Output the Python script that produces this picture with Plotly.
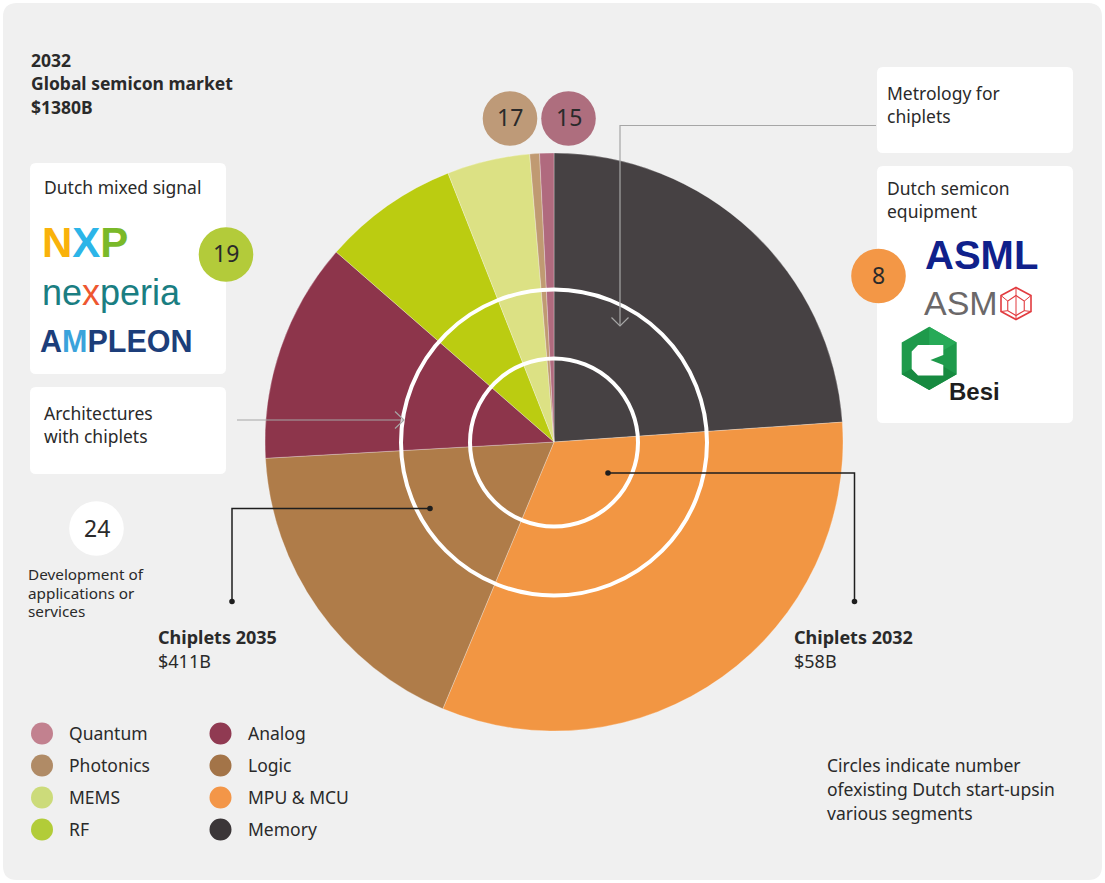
import plotly.graph_objects as go

W, H = 1105, 883

# 2032 global semiconductor market by segment ($B)
segments = ["Memory", "MPU & MCU", "Logic", "Analog", "RF", "MEMS", "Photonics", "Quantum"]
market_2032 = [330, 447, 246, 170, 105, 64, 7.5, 11]
slice_colors = ["#464143", "#F29643", "#AF7C49", "#8D354B", "#BBCC11", "#DCE184", "#C09A72", "#B06A7E"]

# legend (two columns)
legend_left = ["Quantum", "Photonics", "MEMS", "RF"]
legend_left_colors = ["#C2818F", "#B08B66", "#CCDB7A", "#B2CC38"]
legend_right = ["Analog", "Logic", "MPU & MCU", "Memory"]
legend_right_colors = ["#903A52", "#A37448", "#F39648", "#3B3638"]

# number of existing Dutch start-ups per segment
startup_labels = ["19", "17", "15", "8", "24"]
startup_colors = ["#B3CB3A", "#BE9A78", "#AE6E7E", "#F39746", "#FFFFFF"]
startup_centers = [(226, 254.5), (510, 118.5), (568.5, 118.5), (878.5, 276), (96.5, 528.5)]

chiplet_labels = ["Chiplets 2035", "Chiplets 2032"]
chiplet_values = ["$411B", "$58B"]

FONT = "Noto Sans"
TXT = "#2a2a2a"


def px(x):
    return x / W


def py(y):
    return 1 - y / H


def rrect_path(x0, y0, x1, y1, r):
    p = [
        f"M{px(x0 + r)},{py(y0)}",
        f"L{px(x1 - r)},{py(y0)}",
        f"Q{px(x1)},{py(y0)} {px(x1)},{py(y0 + r)}",
        f"L{px(x1)},{py(y1 - r)}",
        f"Q{px(x1)},{py(y1)} {px(x1 - r)},{py(y1)}",
        f"L{px(x0 + r)},{py(y1)}",
        f"Q{px(x0)},{py(y1)} {px(x0)},{py(y1 - r)}",
        f"L{px(x0)},{py(y0 + r)}",
        f"Q{px(x0)},{py(y0)} {px(x0 + r)},{py(y0)}",
        "Z",
    ]
    return " ".join(p)


def poly_path(pts, close=True):
    s = "M" + " L".join(f"{px(x)},{py(y)}" for x, y in pts)
    return s + (" Z" if close else "")


shapes = []
annotations = []


def add_rrect(x0, y0, x1, y1, r, fill, layer="below"):
    shapes.append(dict(type="path", xref="paper", yref="paper", path=rrect_path(x0, y0, x1, y1, r),
                       fillcolor=fill, line=dict(width=0), layer=layer))


def add_circle(cx, cy, r, fill=None, line_color=None, line_width=0, layer="above"):
    shapes.append(dict(type="circle", xref="paper", yref="paper",
                       x0=px(cx - r), x1=px(cx + r), y0=py(cy + r), y1=py(cy - r),
                       fillcolor=fill if fill else "rgba(0,0,0,0)",
                       line=dict(color=line_color if line_color else "rgba(0,0,0,0)", width=line_width),
                       layer=layer))


def add_line(pts, color, width, layer="above"):
    shapes.append(dict(type="path", xref="paper", yref="paper", path=poly_path(pts, close=False),
                       line=dict(color=color, width=width), layer=layer))


def add_text(x, y, text, size=17.5, color=TXT, bold=False, xanchor="left", family=FONT):
    # annotation boxes carry a small inner padding; compensate so text starts at x
    if xanchor == "left":
        x -= 2
    y -= 1
    annotations.append(dict(x=px(x), y=py(y), xref="paper", yref="paper", text=text, showarrow=False,
                            xanchor=xanchor, yanchor="middle",
                            font=dict(family=family, size=size, color=color,
                                      weight="bold" if bold else "normal")))


# panel background and white cards
add_rrect(3, 3, 1102, 880, 14, "#F0F0F0")
add_rrect(30, 163, 226, 374, 6, "#FFFFFF")
add_rrect(30, 387, 226, 474, 6, "#FFFFFF")
add_rrect(877, 67, 1073, 153, 6, "#FFFFFF")
add_rrect(877, 166, 1073, 423, 6, "#FFFFFF")

# chiplet market rings
add_circle(554, 442.5, 153, line_color="#FFFFFF", line_width=4)
add_circle(554, 442.5, 84, line_color="#FFFFFF", line_width=4)

# callout arrows (grey)
grey = "#A6A6A6"
add_line([(876, 125.5), (620, 125.5), (620, 326)], grey, 1.2)
add_line([(611.5, 317.5), (620, 326), (628.5, 317.5)], grey, 1.2)
add_line([(237, 420), (404, 420)], grey, 1.2)
add_line([(395, 411.5), (404, 420), (395, 428.5)], grey, 1.2)

# chiplet leader lines
dark = "#1E1E1E"
add_line([(430, 508.5), (232, 508.5), (232, 601.5)], dark, 1.5)
add_line([(608, 473), (854.5, 473), (854.5, 601.5)], dark, 1.5)
for cx, cy in [(430, 508.5), (232, 601.5), (608, 473), (854.5, 601.5)]:
    add_circle(cx, cy, 2.8, fill=dark)

# start-up count bubbles
for lab, col, (cx, cy) in zip(startup_labels, startup_colors, startup_centers):
    add_circle(cx, cy, 27.3, fill=col)
    add_text(cx, cy, lab, size=23, color=TXT, xanchor="center")

# headline
add_text(31, 61, "2032", bold=True)
add_text(31, 84.5, "Global semicon market", bold=True)
add_text(31, 108, "$1380B", bold=True)

# cards text
add_text(44, 188.5, "Dutch mixed signal")
add_text(44, 413.5, "Architectures")
add_text(44, 437, "with chiplets")
add_text(887, 93.5, "Metrology for")
add_text(887, 117, "chiplets")
add_text(887, 189, "Dutch semicon")
add_text(887, 212, "equipment")

add_text(28, 575, "Development of", size=15.3)
add_text(28, 593.5, "applications or", size=15.3)
add_text(28, 612, "services", size=15.3)

# chiplet labels
add_text(158, 638, chiplet_labels[0], bold=True, size=18)
add_text(158, 661.5, chiplet_values[0], size=18)
add_text(794, 638, chiplet_labels[1], bold=True, size=18)
add_text(794, 661.5, chiplet_values[1], size=18)

# footnote
add_text(827, 766, "Circles indicate number", size=17.5)
add_text(827, 790, "ofexisting Dutch start-upsin", size=17.5)
add_text(827, 814, "various segments", size=17.5)

# legend
rows = [733.5, 765.5, 797.5, 829.5]
for name, col, y in zip(legend_left, legend_left_colors, rows):
    add_circle(42, y, 11, fill=col)
    add_text(69, y, name)
for name, col, y in zip(legend_right, legend_right_colors, rows):
    add_circle(220.5, y, 11, fill=col)
    add_text(247.5, y, name)

# company logos (typographic)
add_text(42, 243, '<span style="color:#F9B20B">N</span><span style="color:#2CB5E8">X</span>'
         '<span style="color:#7AB929">P</span>', size=42, bold=True, family="Liberation Sans")
add_text(42, 293, '<span style="color:#1A7E82">ne</span><span style="color:#EE5730">x</span>'
         '<span style="color:#1A7E82">peria</span>', size=36, family="Liberation Sans")
add_text(40, 342, '<span style="color:#1C3E7A">A</span><span style="color:#3AA3DB">M</span>'
         '<span style="color:#1C3E7A">PLEON</span>', size=30.5, bold=True, family="Liberation Sans")

add_text(925, 256, "ASML", size=40, bold=True, color="#10218B", family="Liberation Sans")
add_text(924, 304, "ASM", size=34, color="#6B6869", family="Liberation Sans")
add_text(949, 393, "Besi", size=24, bold=True, color="#1E1E1E", family="Liberation Sans")

# ASM cube mark
cx, cy, rx, ry = 1016, 303.5, 15, 16
hexv = [(cx, cy - ry), (cx + rx, cy - ry / 2), (cx + rx, cy + ry / 2), (cx, cy + ry),
        (cx - rx, cy + ry / 2), (cx - rx, cy - ry / 2)]
red = "#E23B3F"
shapes.append(dict(type="path", xref="paper", yref="paper", path=poly_path(hexv),
                   line=dict(color=red, width=1.6), layer="above"))
inner = [(cx, cy - ry * 0.5), (cx + rx * 0.55, cy - ry * 0.15), (cx + rx * 0.55, cy + ry * 0.45),
         (cx, cy + ry * 0.75), (cx - rx * 0.55, cy + ry * 0.45), (cx - rx * 0.55, cy - ry * 0.15)]
shapes.append(dict(type="path", xref="paper", yref="paper", path=poly_path(inner),
                   line=dict(color=red, width=1.1), layer="above"))
for (ax, ay), (bx, by) in zip(hexv, inner):
    add_line([(ax, ay), (bx, by)], red, 1.0)
add_line([(cx, cy - ry * 0.5), (cx, cy + ry * 0.75)], red, 1.0)

# Besi hexagon mark
bx, by, brx, bry = 929.2, 358.4, 27.5, 31.7
besi_hex = [(bx, by - bry), (bx + brx, by - bry / 2), (bx + brx, by + bry / 2), (bx, by + bry),
            (bx - brx, by + bry / 2), (bx - brx, by - bry / 2)]
shapes.append(dict(type="path", xref="paper", yref="paper", path=poly_path(besi_hex),
                   fillcolor="#1E9A4B", line=dict(width=0), layer="above"))
# facet shading
shapes.append(dict(type="path", xref="paper", yref="paper",
                   path=poly_path([(bx, by), (bx + brx, by + bry / 2), (bx, by + bry), (bx - brx, by + bry / 2)]),
                   fillcolor="#178A40", line=dict(width=0), layer="above"))
shapes.append(dict(type="path", xref="paper", yref="paper",
                   path=poly_path([(bx, by), (bx, by - bry), (bx + brx, by - bry / 2)]),
                   fillcolor="#27AA57", line=dict(width=0), layer="above"))
besi_c = [(918, 345), (943.3, 345), (943.3, 355), (930.5, 360), (943.3, 365), (943.3, 375.5),
          (918, 375.5), (911.7, 369), (911.7, 351.5)]
shapes.append(dict(type="path", xref="paper", yref="paper", path=poly_path(besi_c),
                   fillcolor="#FFFFFF", line=dict(width=0), layer="above"))

# main pie
cxp, cyp, rp = 554, 442, 289
fig = go.Figure(go.Pie(
    labels=segments, values=market_2032, sort=False, direction="clockwise", rotation=0,
    marker=dict(colors=slice_colors, line=dict(color="rgba(255,255,255,0.35)", width=0.8)),
    textinfo="none", hoverinfo="label+value", showlegend=False,
    domain=dict(x=[px(cxp - rp), px(cxp + rp)], y=[py(cyp + rp), py(cyp - rp)]),
))

fig.update_layout(
    width=W, height=H, margin=dict(l=0, r=0, t=0, b=0),
    paper_bgcolor="#FFFFFF", plot_bgcolor="#FFFFFF",
    shapes=shapes, annotations=annotations, showlegend=False,
    font=dict(family=FONT, color=TXT),
)

fig.write_html("out.html")
